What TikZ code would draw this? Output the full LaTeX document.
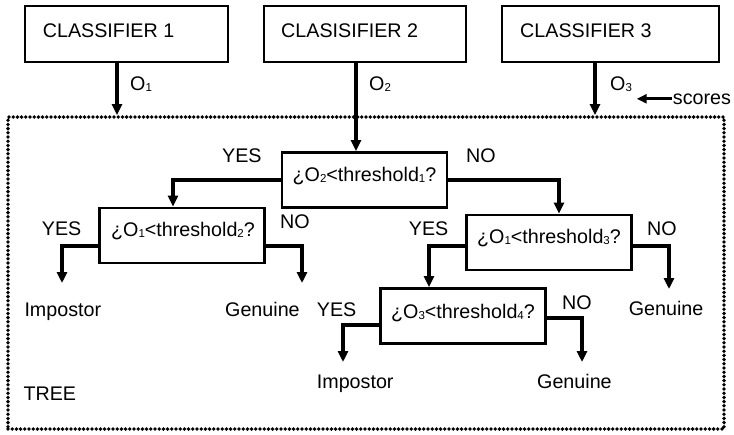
\documentclass[tikz,border=0pt]{standalone}
\usepackage{fontspec}
\setmainfont{Liberation Sans}
\usetikzlibrary{arrows.meta}
% small index set just below the baseline
\newcommand\lowidx[1]{\raisebox{-1pt}{\fontsize{11.5}{12}\selectfont #1}}
\begin{document}
\begin{tikzpicture}[x=1pt,y=-1pt,
  txt/.style={inner sep=0pt, font=\fontsize{19.7}{23}\selectfont},
  frame/.style={draw, line width=2.8pt, inner sep=0pt},
  topbox/.style={frame, minimum height=56pt},
  testbox/.style={frame, minimum width=165pt, minimum height=55pt},
  dotbox/.style={draw, line width=3.8pt, line cap=round, dash pattern=on 0pt off 4.2pt, inner sep=0pt},
  arr/.style={line width=3.6pt, -{Triangle[length=11pt,width=10pt]}},
  branch/.style={line width=3.2pt, -{Triangle[length=11pt,width=10pt]}},
]
\useasboundingbox (0,0) rectangle (734,434);

% classifiers
\node[topbox, minimum width=203pt] (c1) at (126.5,34) {};
\node[topbox, minimum width=202pt] (c2) at (365,34) {};
\node[topbox, minimum width=217pt] (c3) at (610.5,34) {};
\node[txt, anchor=base west] (c1t) at (42.7,37.7) {CLASSIFIER 1};
\node[txt, anchor=base west] (c2t) at (281,37.7) {CLASISIFIER 2};
\node[txt, anchor=base west] (c3t) at (520,37.7) {CLASSIFIER 3};

% tree frame
\node[dotbox, minimum width=716pt, minimum height=312pt] (tree) at (366,273) {};
\node[txt, anchor=base west] (treet) at (23.3,400) {TREE};

% score outputs
\node[txt, anchor=base west] (o1) at (130,90) {O\lowidx{1}};
\node[txt, anchor=base west] (o2) at (369,90) {O\lowidx{2}};
\node[txt, anchor=base west] (o3) at (610,90) {O\lowidx{3}};
\node[txt, anchor=base west] (scores) at (672.7,104) {scores};
\draw[line width=3.2pt, -{Triangle[length=10pt,width=9pt]}] ([xshift=-1pt]scores.west) -- ++(-35,0);

% decision nodes
\node[testbox] (d1) at (364.5,180) {};
\node[testbox] (d2) at (182,235.5) {};
\node[testbox] (d3) at (549,242.5) {};
\node[testbox] (d4) at (463,316) {};
\node[txt, anchor=base] (d1t) at (364.5,181) {¿O\lowidx{2}<threshold\lowidx{1}?};
\node[txt, anchor=base] (d2t) at (183,236.7) {¿O\lowidx{1}<threshold\lowidx{2}?};
\node[txt, anchor=base] (d3t) at (549,243) {¿O\lowidx{1}<threshold\lowidx{3}?};
\node[txt, anchor=base] (d4t) at (463,318) {¿O\lowidx{3}<threshold\lowidx{4}?};

% inputs to the tree
\coordinate (x1) at (117,0);
\coordinate (x2) at (356,0);
\coordinate (x3) at (595,0);
\draw[arr] (x1 |- c1.south) -- (x1 |- tree.north);
\draw[arr] (x2 |- c2.south) -- (x2 |- d1.north);
\draw[arr] (x3 |- c3.south) -- (x3 |- tree.north);

% branch labels
\node[txt, anchor=base west] (y1) at (222,162) {YES};
\node[txt, anchor=base west] (n1) at (466,162) {NO};
\node[txt, anchor=base west] (y2) at (41.7,235) {YES};
\node[txt, anchor=base west] (n2) at (280,228) {NO};
\node[txt, anchor=base west] (y3) at (408.7,235) {YES};
\node[txt, anchor=base west] (n3) at (647,235) {NO};
\node[txt, anchor=base west] (y4) at (316.7,316) {YES};
\node[txt, anchor=base west] (n4) at (562,309) {NO};

% leaves
\node[txt, anchor=base west] (l1) at (24.3,316) {Impostor};
\node[txt, anchor=base west] (l2) at (225,316) {Genuine};
\node[txt, anchor=base west] (l3) at (628.7,315) {Genuine};
\node[txt, anchor=base west] (l4) at (316.7,388) {Impostor};
\node[txt, anchor=base west] (l5) at (537,388) {Genuine};

% leaf arrow ends
\coordinate (e1) at (62,283);
\coordinate (e2) at (302,283);
\coordinate (e3) at (669,289);
\coordinate (e4) at (343,362);
\coordinate (e5) at (582,362);

% branches
\draw[branch] (d1.west) -| ([xshift=-9pt]d2.north);
\draw[branch] (d1.east) -| ([xshift=10pt]d3.north);
\draw[branch] ([yshift=-10.5pt]d2.west) -| (e1);
\draw[branch] ([yshift=-10.5pt]d2.east) -| (e2);
\draw[branch] ([yshift=-3.5pt]d3.west) -| ([xshift=-34pt]d4.north);
\draw[branch] ([yshift=-3.5pt]d3.east) -| (e3);
\draw[branch] ([yshift=-9pt]d4.west) -| (e4);
\draw[branch] ([yshift=-2pt]d4.east) -| (e5);
\end{tikzpicture}
\end{document}
